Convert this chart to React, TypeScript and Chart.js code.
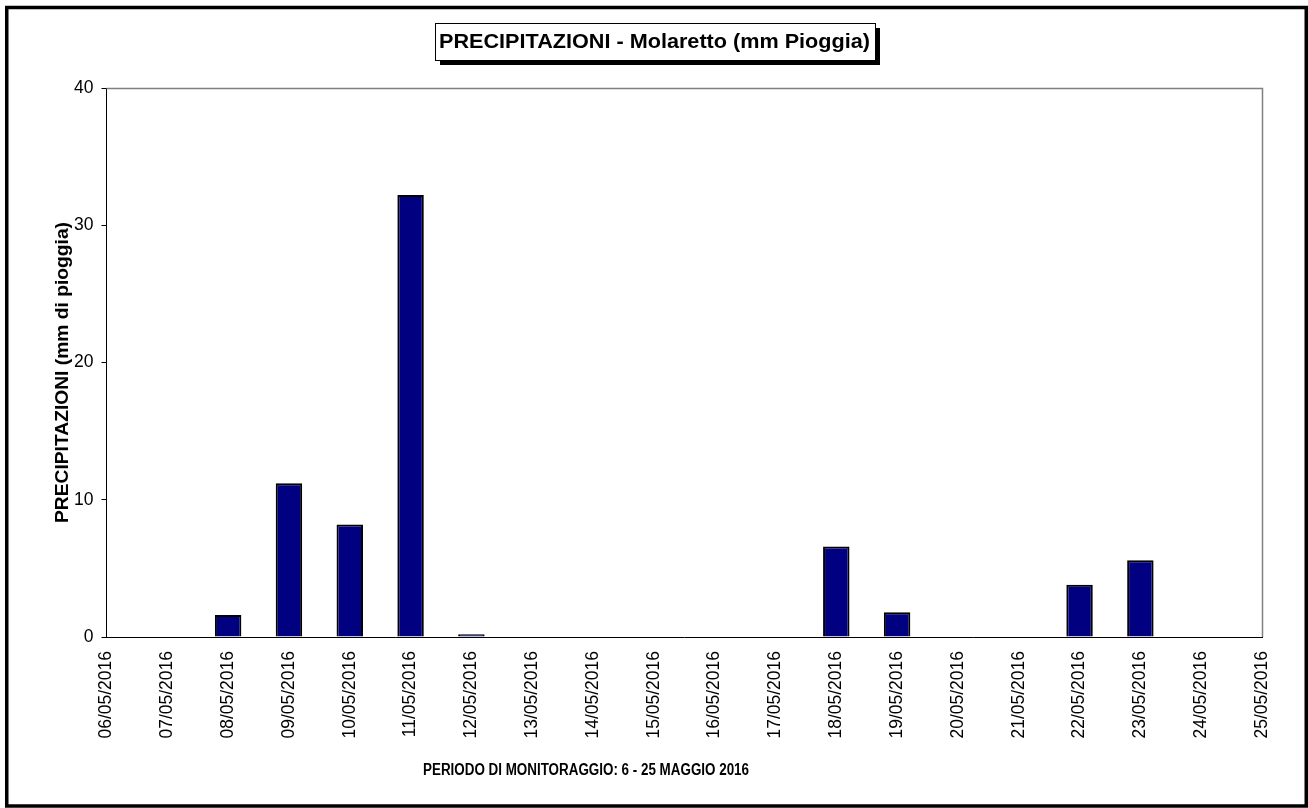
import React, { useEffect, useRef } from "react";
import { Chart, registerables } from "chart.js";

Chart.register(...registerables);

const categories = [
  "06/05/2016", "07/05/2016", "08/05/2016", "09/05/2016", "10/05/2016",
  "11/05/2016", "12/05/2016", "13/05/2016", "14/05/2016", "15/05/2016",
  "16/05/2016", "17/05/2016", "18/05/2016", "19/05/2016", "20/05/2016",
  "21/05/2016", "22/05/2016", "23/05/2016", "24/05/2016", "25/05/2016",
];
const precipitation = [0, 0, 1.6, 11.2, 8.2, 32.2, 0.2, 0, 0, 0, 0, 0, 6.6, 1.8, 0, 0, 3.8, 5.6, 0, 0];
const yMin = 0;
const yMax = 40;
const yStep = 10;
const chartTitle = "PRECIPITAZIONI - Molaretto (mm Pioggia)";
const yTitle = "PRECIPITAZIONI (mm di pioggia)";
const xTitle = "PERIODO DI MONITORAGGIO: 6 - 25 MAGGIO 2016";

const FONT = "'Liberation Sans', Arial, Helvetica, sans-serif";

function fittedText(ctx: any, text: string, x: number, y: number, size: number, width: number, rot = 0) {
  ctx.save();
  ctx.font = `bold ${size}px ${FONT}`;
  ctx.textAlign = "center";
  ctx.textBaseline = "middle";
  const w = ctx.measureText(text).width;
  ctx.translate(x, y);
  if (rot) ctx.rotate(rot);
  ctx.scale(width / w, 1);
  ctx.fillText(text, 0, 0);
  ctx.restore();
}

const decorPlugin = {
  id: "decor",
  afterDraw(chart: any) {
    const { ctx, chartArea } = chart;
    const W = chart.width;
    const H = chart.height;
    ctx.save();
    // outer frame
    ctx.strokeStyle = "#000";
    ctx.lineWidth = 3.5;
    ctx.strokeRect(6.75, 7.5, W - 8.5, H - 9.5);

    // plot area top and right edges (gray)
    ctx.strokeStyle = "#808080";
    ctx.lineWidth = 1.5;
    ctx.beginPath();
    ctx.moveTo(chartArea.left, chartArea.top + 0.5);
    ctx.lineTo(chartArea.right + 0.5, chartArea.top + 0.5);
    ctx.lineTo(chartArea.right + 0.5, chartArea.bottom);
    ctx.stroke();

    // title box with shadow
    const bx = 435, by = 23, bw = 440, bh = 37;
    ctx.fillStyle = "#000";
    ctx.fillRect(bx + 5, by + 5, bw, bh);
    ctx.fillStyle = "#fff";
    ctx.fillRect(bx, by, bw, bh);
    ctx.strokeStyle = "#000";
    ctx.lineWidth = 1;
    ctx.strokeRect(bx + 0.5, by + 0.5, bw, bh);
    ctx.fillStyle = "#000";
    fittedText(ctx, chartTitle, 654.5, by + bh / 2 + 1, 20, 431);

    // x axis title
    fittedText(ctx, xTitle, 586, 771, 16, 326);

    // y axis title
    fittedText(ctx, yTitle, 63, 372.5, 17.5, 301, -Math.PI / 2);

    ctx.restore();
  },
};

export default function App() {
  const canvasRef = useRef<HTMLCanvasElement | null>(null);

  useEffect(() => {
    if (!canvasRef.current) return;
    const chart = new Chart(canvasRef.current, {
      type: "bar",
      data: {
        labels: categories,
        datasets: [
          {
            label: "Precipitazioni",
            data: precipitation,
            backgroundColor: "#000080",
            borderColor: "#000000",
            borderWidth: 2,
            categoryPercentage: 1,
            barPercentage: 0.435,
          },
        ],
      },
      options: {
        animation: false,
        responsive: false,
        maintainAspectRatio: false,
        devicePixelRatio: 1,
        layout: { padding: { left: 40, right: 46, top: 88, bottom: 20 } },
        plugins: {
          legend: { display: false },
          tooltip: { enabled: false },
          title: { display: false },
        },
        scales: {
          x: {
            type: "category",
            offset: false,
            grid: { display: true, drawOnChartArea: false, drawTicks: false, offset: false },
            border: { display: true, color: "#000", width: 1 },
            ticks: {
              autoSkip: false,
              minRotation: 90,
              maxRotation: 90,
              padding: 14,
              color: "#000",
              font: { family: FONT, size: 17.5 },
            },
            afterFit(scale: any) {
              scale.height = 151;
            },
          },
          y: {
            min: yMin,
            max: yMax,
            ticks: {
              stepSize: yStep,
              padding: 8,
              color: "#000",
              font: { family: FONT, size: 17.5 },
            },
            grid: { drawOnChartArea: false, drawTicks: true, tickLength: 5, color: "#000" },
            border: { display: true, color: "#000", width: 1 },
            afterFit(scale: any) {
              scale.width = 66.5;
            },
          },
        },
      },
      plugins: [decorPlugin],
    });
    return () => chart.destroy();
  }, []);

  return (
    <div style={{ position: "fixed", left: 0, top: 0, width: 1308, height: 808, background: "#fff" }}>
      <canvas ref={canvasRef} width={1308} height={808} style={{ display: "block" }} />
    </div>
  );
}
